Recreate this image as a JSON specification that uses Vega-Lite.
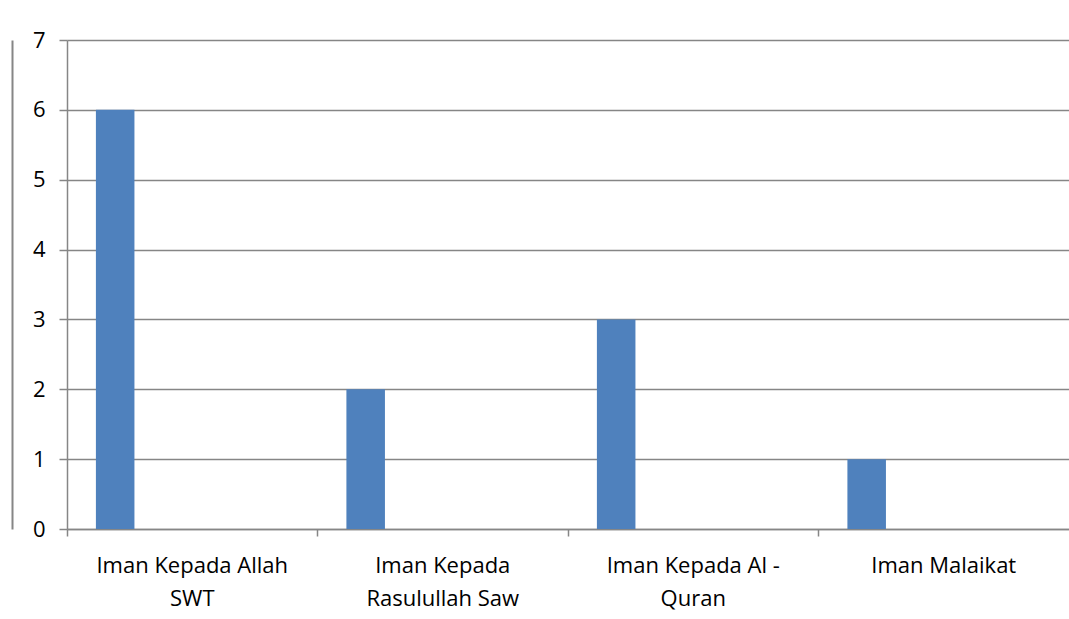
{
  "$schema": "https://vega.github.io/schema/vega-lite/v6.json",
  "autosize": "none",
  "width": 1002,
  "height": 489,
  "padding": {"left": 67, "top": 40, "right": 0, "bottom": 90},
  "background": "white",
  "config": {
    "view": {"stroke": null},
    "font": "Open Sans"
  },
  "data": {
    "values": [
      {"kategori": "Iman Kepada Allah SWT", "series": "Series 1", "nilai": 6},
      {"kategori": "Iman Kepada Rasulullah Saw", "series": "Series 1", "nilai": 2},
      {"kategori": "Iman Kepada Al - Quran", "series": "Series 1", "nilai": 3},
      {"kategori": "Iman Malaikat", "series": "Series 1", "nilai": 1}
    ]
  },
  "encoding": {
    "x": {
      "field": "kategori",
      "type": "nominal",
      "sort": null,
      "scale": {"paddingInner": 0, "paddingOuter": 0},
      "axis": {
        "title": null,
        "labelAngle": 0,
        "bandPosition": 0,
        "tickSize": 7,
        "tickColor": "#868686",
        "tickWidth": 1.5,
        "domainColor": "#868686",
        "domainWidth": 1.5,
        "labelFont": "Open Sans",
        "labelFontSize": 22,
        "labelColor": "#000000",
        "labelPadding": 19,
        "labelLineHeight": 33,
        "labelLimit": 400,
        "labelExpr": "datum.value == 'Iman Kepada Allah SWT' ? ['Iman Kepada Allah', 'SWT'] : datum.value == 'Iman Kepada Rasulullah Saw' ? ['Iman Kepada', 'Rasulullah Saw'] : datum.value == 'Iman Kepada Al - Quran' ? ['Iman Kepada Al -', 'Quran'] : datum.value",
        "labelBaseline": "top"
      }
    },
    "xOffset": {
      "field": "series",
      "type": "nominal",
      "scale": {"domain": ["Series 1", "Series 2", "Series 3", "Series 4", "Series 5"], "paddingInner": 0, "paddingOuter": 0.75}
    }
  },
  "layer": [
    {
      "mark": {"type": "bar", "color": "#4F81BD"},
      "encoding": {
        "y": {
          "field": "nilai",
          "type": "quantitative",
          "scale": {"domain": [0, 7], "nice": false},
          "axis": {
            "title": null,
            "values": [0, 1, 2, 3, 4, 5, 6, 7],
            "grid": true,
            "gridColor": "#868686",
            "gridWidth": 1.5,
            "tickSize": 8,
            "tickColor": "#868686",
            "tickWidth": 1.5,
            "domainColor": "#868686",
            "domainWidth": 1.5,
            "labelFont": "Open Sans",
            "labelFontSize": 22,
            "labelColor": "#000000",
            "labelPadding": 14
          }
        }
      }
    },
    {
      "mark": {"type": "bar", "opacity": 0},
      "encoding": {
        "y": {
          "field": "nilai",
          "type": "quantitative",
          "scale": {"domain": [0, 7], "nice": false},
          "axis": {
            "title": null,
            "orient": "left",
            "offset": 55,
            "labels": false,
            "ticks": false,
            "grid": false,
            "domainColor": "#868686",
            "domainWidth": 2
          }
        }
      }
    }
  ],
  "resolve": {"axis": {"y": "independent"}}
}
